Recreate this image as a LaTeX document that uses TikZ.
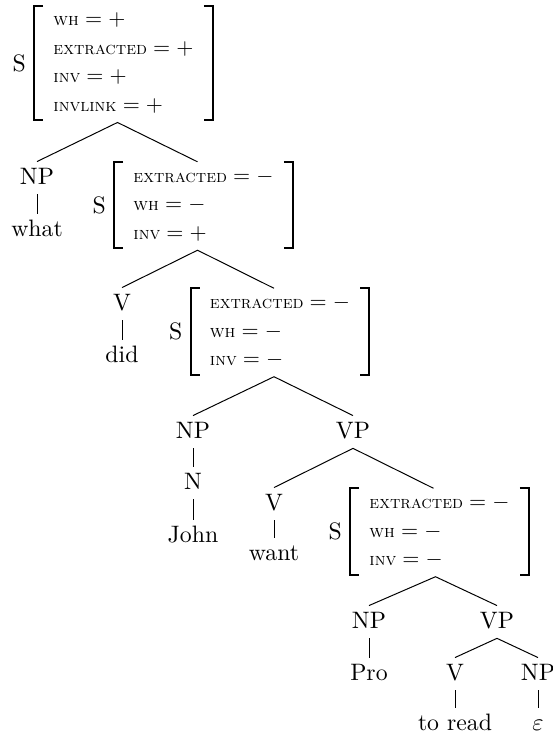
\documentclass[tikz,border=0pt]{standalone}
\usetikzlibrary{calc}

% feature row of an attribute-value matrix
\newcommand\fv[2]{$\mbox{\footnotesize\textsc{#1}} = #2$}
% square brackets round an attribute-value matrix node
\newcommand\avmbrk[1]{%
  \draw[brk] ([xshift=4pt]#1.north west) -- (#1.north west) -- (#1.south west) -- ([xshift=4pt]#1.south west);
  \draw[brk] ([xshift=-4pt]#1.north east) -- (#1.north east) -- (#1.south east) -- ([xshift=-4pt]#1.south east);}
% size of the category and word labels
\newcommand\labfont{\fontsize{10.8pt}{13pt}\selectfont}

\tikzset{
  x=0.4545pt, y=-0.4545pt,
  lab/.style={anchor=base, inner sep=2.5pt, text height=7.5pt, text depth=2pt, font=\labfont},
  avm/.style={inner xsep=8.5pt, inner ysep=0pt, anchor=center},
  cat/.style={anchor=east, inner sep=0pt, font=\labfont},
  edge/.style={line width=0.45pt},
  brk/.style={line width=0.9pt}
}

\begin{document}
\renewcommand\arraystretch{1.08}
\begin{tikzpicture}
\useasboundingbox (0,0) rectangle (553,738);

% attribute-value matrices
\node[avm] (f1) at (123.5,63) {\begin{tabular}{@{}l@{}}
  \fv{wh}{+}\\ \fv{extracted}{+}\\ \fv{inv}{+}\\ \fv{invlink}{+}\end{tabular}};
\node[avm] (f2) at (203.5,205) {\begin{tabular}{@{}l@{}}
  \fv{extracted}{-}\\ \fv{wh}{-}\\ \fv{inv}{+}\end{tabular}};
\node[avm] (f3) at (280,331.5) {\begin{tabular}{@{}l@{}}
  \fv{extracted}{-}\\ \fv{wh}{-}\\ \fv{inv}{-}\end{tabular}};
\node[avm] (f4) at (439.5,531.5) {\begin{tabular}{@{}l@{}}
  \fv{extracted}{-}\\ \fv{wh}{-}\\ \fv{inv}{-}\end{tabular}};
\avmbrk{f1}\avmbrk{f2}\avmbrk{f3}\avmbrk{f4}

% category labels of the matrices
\node[cat] (s1) at ($(f1.west)+(-8,0)$) {S};
\node[cat] (s2) at ($(f2.west)+(-8,0)$) {S};
\node[cat] (s3) at ($(f3.west)+(-8,0)$) {S};
\node[cat] (s4) at ($(f4.west)+(-8,0)$) {S};

% attachment points of the branches
\coordinate (f1s) at ($(f1.south)+(-6,2)$);
\coordinate (f2n) at ($(f2.north)+(-6,0)$);
\coordinate (f2s) at ($(f2.south)+(-6,2)$);
\coordinate (f3n) at ($(f3.north)+(-6,0)$);
\coordinate (f3s) at ($(f3.south)+(-6,2)$);
\coordinate (f4n) at ($(f4.north)+(-6,0)$);
\coordinate (f4s) at ($(f4.south)+(-4,2)$);

% tree nodes
\node[lab] (np1) at (37,184) {NP};
\node[lab] (what) at (37,236) {what};
\node[lab] (v1) at (122,310) {V};
\node[lab] (did) at (122,362) {did};
\node[lab] (np2) at (193,438) {NP};
\node[lab] (n2) at (193,489) {N};
\node[lab] (john) at (193,542) {John};
\node[lab] (vp2) at (353,438) {VP};
\node[lab] (v2) at (274,510) {V};
\node[lab] (want) at (274,560) {want};
\node[lab] (np3) at (369,628) {NP};
\node[lab] (pro) at (369,680) {Pro};
\node[lab] (vp3) at (497,628) {VP};
\node[lab] (v3) at (455,680) {V};
\node[lab] (toread) at (455,730) {to read};
\node[lab] (np4) at (538,680) {NP};
\node[lab] (eps) at (538,730) {$\varepsilon$};

% branches
\draw[edge] (np1.north) -- (f1s) -- (f2n);
\draw[edge] (v1.north) -- (f2s) -- (f3n);
\draw[edge] (np2.north) -- (f3s) -- (vp2.north);
\draw[edge] (v2.north) -- (vp2.south) -- (f4n);
\draw[edge] (np3.north) -- (f4s) -- (vp3.north);
\draw[edge] (v3.north) -- (vp3.south) -- (np4.north);

% unary branches
\draw[edge] (np1) -- (what);
\draw[edge] (v1) -- (did);
\draw[edge] (np2) -- (n2);
\draw[edge] (n2) -- (john);
\draw[edge] (v2) -- (want);
\draw[edge] (np3) -- (pro);
\draw[edge] (v3) -- (toread);
\draw[edge] (np4) -- (eps);
\end{tikzpicture}
\end{document}
